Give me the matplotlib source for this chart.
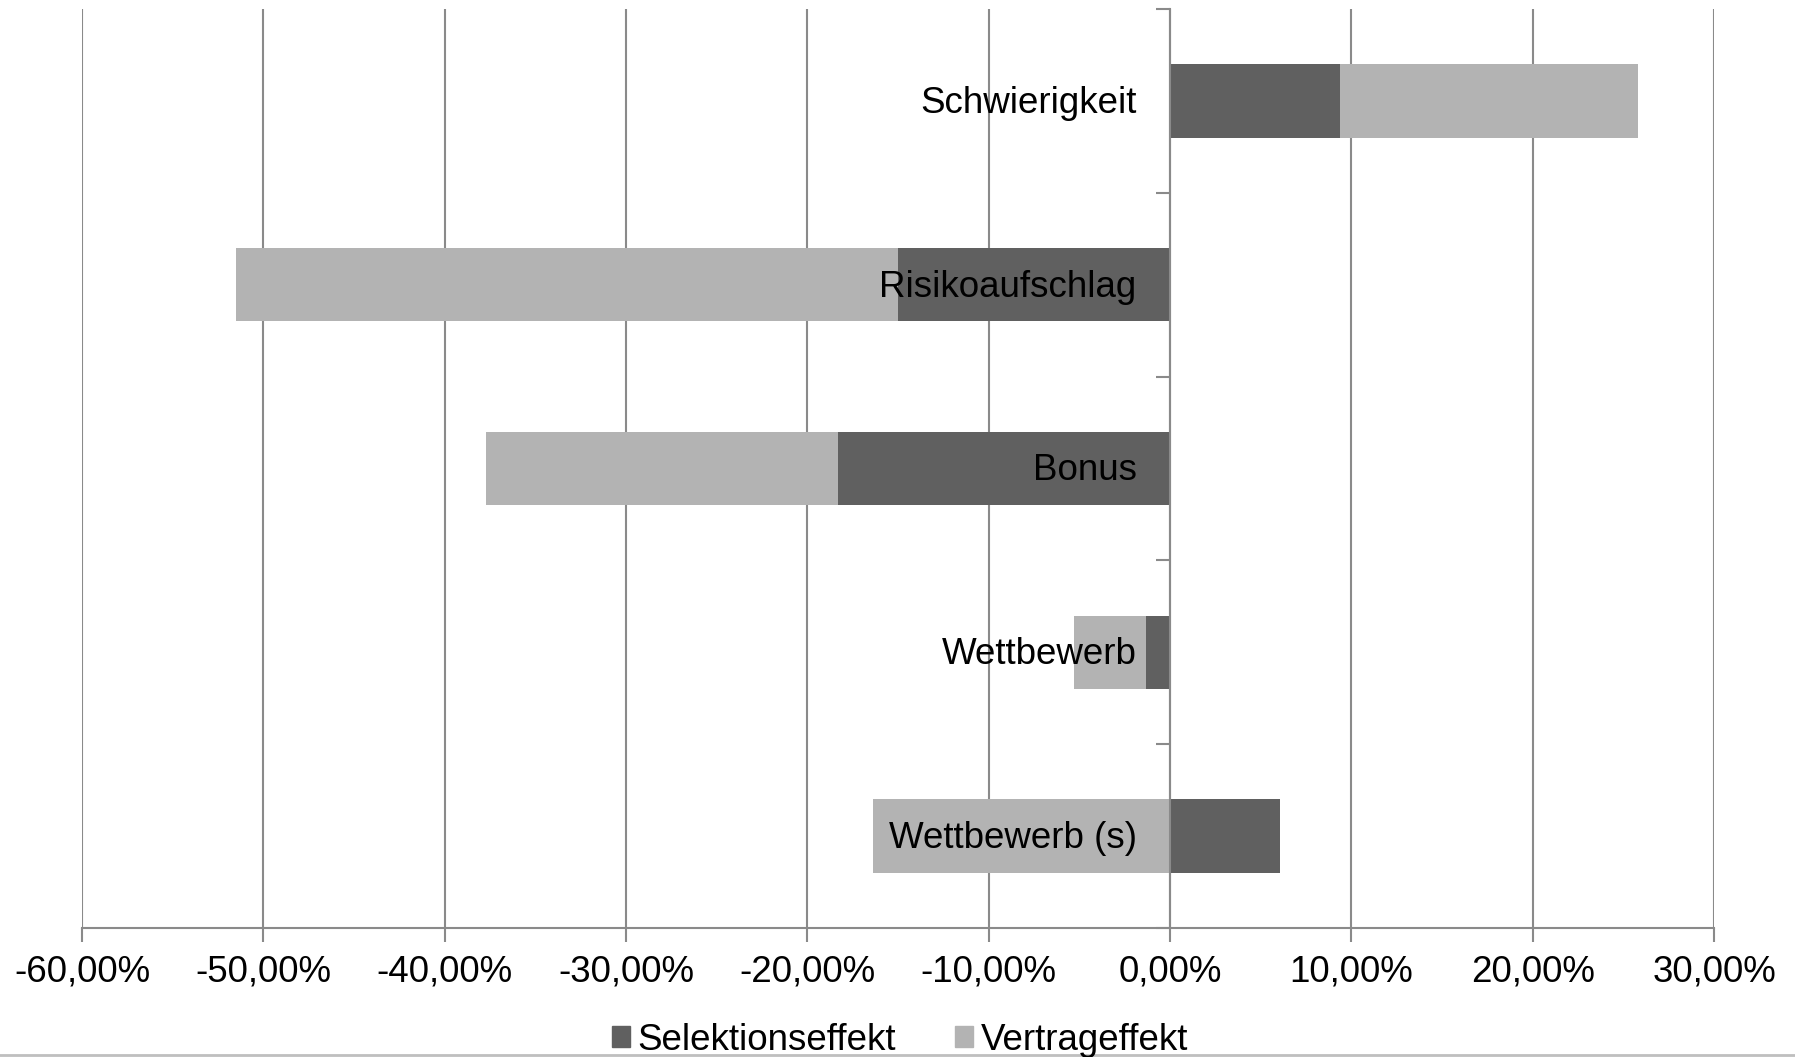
import matplotlib.pyplot as plt
from matplotlib.lines import Line2D
from matplotlib.patches import Patch
import numpy as np

plt.rcParams['font.family'] = ['Liberation Sans', 'DejaVu Sans']

# Werte in Prozent, von oben nach unten
categories = ["Schwierigkeit", "Risikoaufschlag", "Bonus", "Wettbewerb", "Wettbewerb (s)"]
selektion = [9.4, -15.0, -18.3, -1.35, 6.05]
vertrag = [16.4, -36.5, -19.4, -3.95, -16.4]
xticks = [-60, -50, -40, -30, -20, -10, 0, 10, 20, 30]

dark = "#606060"
light = "#b3b3b3"
grid_col = "#8a8a8a"
fs = 26.5

fig = plt.figure(figsize=(17.95, 10.57), dpi=100)
ax = fig.add_axes([82 / 1795, 129 / 1057, 1632 / 1795, 919 / 1057])

n = len(categories)
y = np.arange(n)[::-1]
sel = np.array(selektion)
ver = np.array(vertrag)
# positive and negative parts stack separately (like Excel)
ver_left = np.where(np.sign(sel) == np.sign(ver), sel, 0)

h = 0.40
ax.barh(y, sel, height=h, color=dark, zorder=2, label="Selektionseffekt")
ax.barh(y, ver, left=ver_left, height=h, color=light, zorder=2, label="Vertrageffekt")

ax.set_xlim(-60, 30)
ax.set_ylim(-0.5, n - 0.5)
ax.set_xticks(xticks)
ax.set_xticklabels([f"{v:.2f}%".replace(".", ",") for v in xticks], fontsize=fs)
ax.tick_params(axis="x", length=10, width=1.5, color=grid_col, pad=9)
ax.grid(axis="x", color=grid_col, linewidth=1.5, zorder=0)
ax.set_axisbelow(True)

# category labels sit on top of the bars, just left of the zero axis
ax.set_yticks([])
ax.set_yticks(np.arange(n + 1) - 0.5, minor=True)
ax.tick_params(axis="y", which="minor", length=10, width=1.5, color=grid_col)
for yi, cat in zip(y, categories):
    ax.annotate(cat, xy=(0, yi), xytext=(-24, -1.7), textcoords="offset points",
                ha="right", va="center", fontsize=fs, zorder=5)

for s in ["top", "right"]:
    ax.spines[s].set_visible(False)
ax.spines["left"].set_position(("data", 0))
ax.spines["left"].set_color(grid_col)
ax.spines["left"].set_linewidth(1.5)
ax.spines["left"].set_zorder(3)
ax.spines["bottom"].set_color(grid_col)
ax.spines["bottom"].set_linewidth(1.5)

handles = [Patch(color=dark, label="Selektionseffekt"), Patch(color=light, label="Vertrageffekt")]
fig.legend(handles=handles, loc="center", bbox_to_anchor=(900 / 1795, 1 - 1040 / 1057),
           ncol=2, frameon=False, fontsize=fs, handlelength=0.5, handleheight=0.5,
           handletextpad=0.2, columnspacing=1.6)

fig.add_artist(Line2D([0, 1], [2 / 1057, 2 / 1057], color="#bfbfbf", linewidth=2))

fig.savefig("out.png", dpi=100)
